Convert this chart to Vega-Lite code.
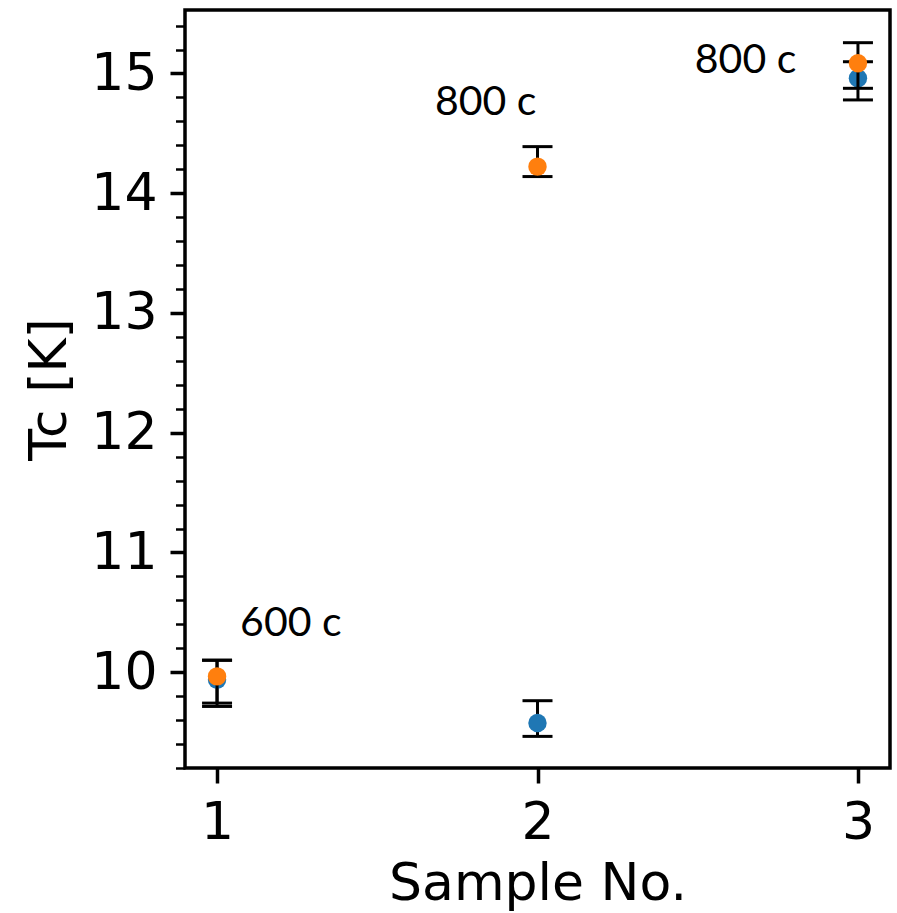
{
  "$schema": "https://vega.github.io/schema/vega-lite/v6.json",
  "width": 705,
  "height": 758,
  "autosize": {"type": "none"},
  "padding": {"left": 185, "top": 10, "right": 7, "bottom": 145},
  "background": "white",
  "config": {
    "view": {"stroke": "black", "strokeWidth": 3.5},
    "axis": {
      "grid": false,
      "domain": false,
      "labelFont": "DejaVu Sans",
      "titleFont": "DejaVu Sans",
      "labelFontSize": 52,
      "titleFontSize": 52,
      "titleFontWeight": "normal",
      "labelColor": "black",
      "titleColor": "black",
      "tickColor": "black",
      "labelOverlap": false
    },
    "axisX": {"values": [1, 2, 3], "format": "d", "tickSize": 15, "tickWidth": 3.5, "labelPadding": 14, "titlePadding": 10},
    "axisY": {
      "tickSize": 15,
      "labelPadding": 13,
      "titlePadding": 14,
      "tickWidth": {"condition": {"test": "abs(datum.value - round(datum.value)) < 0.001", "value": 3.5}, "value": 2.5},
      "tickDash": {"condition": {"test": "abs(datum.value - round(datum.value)) < 0.001", "value": [20, 0]}, "value": [9.5, 100]}
    }
  },
  "datasets": {
    "pts": [
      {"sample": 1, "series": "blue", "tc": 9.937, "lo": 9.714, "hi": 10.1},
      {"sample": 2, "series": "blue", "tc": 9.576, "lo": 9.464, "hi": 9.762},
      {"sample": 3, "series": "blue", "tc": 14.96, "lo": 14.779, "hi": 15.098},
      {"sample": 1, "series": "orange", "tc": 9.965, "lo": 9.742, "hi": 10.1},
      {"sample": 2, "series": "orange", "tc": 14.222, "lo": 14.139, "hi": 14.389},
      {"sample": 3, "series": "orange", "tc": 15.085, "lo": 14.876, "hi": 15.257}
    ],
    "notes": [
      {"nx": 1.072, "ny": 10.299, "label": "600 c"},
      {"nx": 1.68, "ny": 14.654, "label": "800 c"},
      {"nx": 2.491, "ny": 15.007, "label": "800 c"}
    ]
  },
  "layer": [
    {
      "data": {"name": "pts"},
      "transform": [{"filter": "datum.series === 'blue'"}],
      "mark": {"type": "errorbar", "thickness": 3, "size": 30, "ticks": {"size": 30, "thickness": 3, "color": "black", "opacity": 1}, "rule": {"strokeWidth": 3, "color": "black", "opacity": 1}},
      "encoding": {
        "x": {"field": "sample", "type": "quantitative", "scale": {"domain": [0.9, 3.1], "nice": false, "zero": false}, "title": "Sample No.", "axis": {"title": "Sample No.", "values": [1, 2, 3]}},
        "y": {"field": "lo", "type": "quantitative", "scale": {"domain": [9.2, 15.53], "nice": false, "zero": false}, "title": "Tc [K]",
          "axis": {"title": "Tc [K]", "values": [9.2, 9.4, 9.6, 9.8, 10, 10.2, 10.4, 10.6, 10.8, 11, 11.2, 11.4, 11.6, 11.8, 12, 12.2, 12.4, 12.6, 12.8, 13, 13.2, 13.4, 13.6, 13.8, 14, 14.2, 14.4, 14.6, 14.8, 15, 15.2, 15.4], "labelExpr": "abs(datum.value - round(datum.value)) < 0.001 ? format(datum.value, 'd') : ''"}},
        "y2": {"field": "hi"}
      }
    },
    {
      "data": {"name": "pts"},
      "transform": [{"filter": "datum.series === 'blue'"}],
      "mark": {"type": "circle", "size": 340, "opacity": 1},
      "encoding": {
        "x": {"field": "sample", "type": "quantitative", "scale": {"domain": [0.9, 3.1], "nice": false, "zero": false}, "title": "Sample No.", "axis": {"title": "Sample No.", "values": [1, 2, 3]}},
        "y": {"field": "tc", "type": "quantitative", "scale": {"domain": [9.2, 15.53], "nice": false, "zero": false}, "title": "Tc [K]",
          "axis": {"title": "Tc [K]", "values": [9.2, 9.4, 9.6, 9.8, 10, 10.2, 10.4, 10.6, 10.8, 11, 11.2, 11.4, 11.6, 11.8, 12, 12.2, 12.4, 12.6, 12.8, 13, 13.2, 13.4, 13.6, 13.8, 14, 14.2, 14.4, 14.6, 14.8, 15, 15.2, 15.4], "labelExpr": "abs(datum.value - round(datum.value)) < 0.001 ? format(datum.value, 'd') : ''"}},
        "color": {"field": "series", "type": "nominal", "scale": {"domain": ["blue", "orange"], "range": ["#1f77b4", "#ff7f0e"]}, "legend": null}
      }
    },
    {
      "data": {"name": "pts"},
      "transform": [{"filter": "datum.series === 'orange'"}],
      "mark": {"type": "errorbar", "thickness": 3, "size": 30, "ticks": {"size": 30, "thickness": 3, "color": "black", "opacity": 1}, "rule": {"strokeWidth": 3, "color": "black", "opacity": 1}},
      "encoding": {
        "x": {"field": "sample", "type": "quantitative", "scale": {"domain": [0.9, 3.1], "nice": false, "zero": false}, "title": "Sample No.", "axis": {"title": "Sample No.", "values": [1, 2, 3]}},
        "y": {"field": "lo", "type": "quantitative", "scale": {"domain": [9.2, 15.53], "nice": false, "zero": false}, "title": "Tc [K]",
          "axis": {"title": "Tc [K]", "values": [9.2, 9.4, 9.6, 9.8, 10, 10.2, 10.4, 10.6, 10.8, 11, 11.2, 11.4, 11.6, 11.8, 12, 12.2, 12.4, 12.6, 12.8, 13, 13.2, 13.4, 13.6, 13.8, 14, 14.2, 14.4, 14.6, 14.8, 15, 15.2, 15.4], "labelExpr": "abs(datum.value - round(datum.value)) < 0.001 ? format(datum.value, 'd') : ''"}},
        "y2": {"field": "hi"}
      }
    },
    {
      "data": {"name": "pts"},
      "transform": [{"filter": "datum.series === 'orange'"}],
      "mark": {"type": "circle", "size": 340, "opacity": 1},
      "encoding": {
        "x": {"field": "sample", "type": "quantitative", "scale": {"domain": [0.9, 3.1], "nice": false, "zero": false}, "title": "Sample No.", "axis": {"title": "Sample No.", "values": [1, 2, 3]}},
        "y": {"field": "tc", "type": "quantitative", "scale": {"domain": [9.2, 15.53], "nice": false, "zero": false}, "title": "Tc [K]",
          "axis": {"title": "Tc [K]", "values": [9.2, 9.4, 9.6, 9.8, 10, 10.2, 10.4, 10.6, 10.8, 11, 11.2, 11.4, 11.6, 11.8, 12, 12.2, 12.4, 12.6, 12.8, 13, 13.2, 13.4, 13.6, 13.8, 14, 14.2, 14.4, 14.6, 14.8, 15, 15.2, 15.4], "labelExpr": "abs(datum.value - round(datum.value)) < 0.001 ? format(datum.value, 'd') : ''"}},
        "color": {"field": "series", "type": "nominal", "scale": {"domain": ["blue", "orange"], "range": ["#1f77b4", "#ff7f0e"]}, "legend": null}
      }
    },
    {
      "data": {"name": "notes"},
      "mark": {"type": "text", "font": "Lato", "fontSize": 41, "align": "left", "baseline": "alphabetic", "color": "black"},
      "encoding": {
        "x": {"field": "nx", "type": "quantitative", "scale": {"domain": [0.9, 3.1], "nice": false, "zero": false}, "title": "Sample No.", "axis": {"title": "Sample No.", "values": [1, 2, 3]}},
        "y": {"field": "ny", "type": "quantitative", "scale": {"domain": [9.2, 15.53], "nice": false, "zero": false}, "title": "Tc [K]",
          "axis": {"title": "Tc [K]", "values": [9.2, 9.4, 9.6, 9.8, 10, 10.2, 10.4, 10.6, 10.8, 11, 11.2, 11.4, 11.6, 11.8, 12, 12.2, 12.4, 12.6, 12.8, 13, 13.2, 13.4, 13.6, 13.8, 14, 14.2, 14.4, 14.6, 14.8, 15, 15.2, 15.4], "labelExpr": "abs(datum.value - round(datum.value)) < 0.001 ? format(datum.value, 'd') : ''"}},
        "text": {"field": "label"}
      }
    }
  ]
}
